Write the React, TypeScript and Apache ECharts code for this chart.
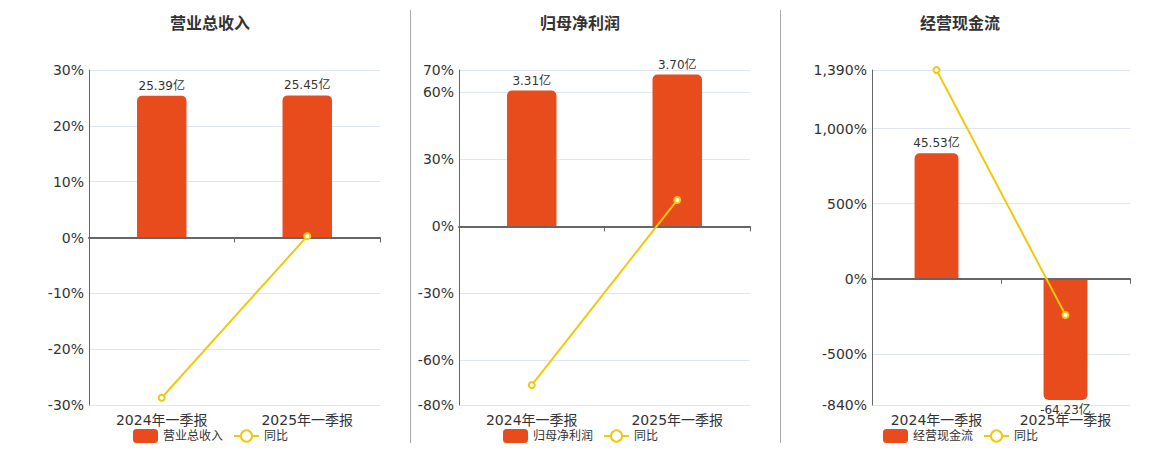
import React, { useEffect, useRef } from 'react';
import * as echarts from 'echarts';

// ---- data ----
const categories = ['2024年一季报', '2025年一季报'];
const titles = ['营业总收入', '归母净利润', '经营现金流'];
const yoyName = '同比';

const revenue = [25.39, 25.45];
const revenueYoy = [-28.7, 0.24];
const netProfit = [3.31, 3.7];
const netProfitYoy = [-71.1, 11.78];
const cashFlow = [45.53, -64.23];
const cashFlowYoy = [1390, -241.07];

const revenueTicks = [-30, -20, -10, 0, 10, 20, 30];
const netProfitTicks = [-80, -60, -30, 0, 30, 60, 70];
const cashFlowTicks = [-840, -500, 0, 500, 1000, 1390];

// hidden scale ranges used for the bars (amounts in 亿)
const revenueBarRange = [-30, 30];
const netProfitBarRange = [-4.354, 3.81];
const cashFlowBarRange = [-43.97, 75.75];

// ---- layout / style ----
const BAR_COLOR = '#E84C1D';
const LINE_COLOR = '#F2C80F';
const TEXT = '#333';
const AXIS = '#666';

const panelValues = [revenue, netProfit, cashFlow];
const panelYoy = [revenueYoy, netProfitYoy, cashFlowYoy];
const panelTicks = [revenueTicks, netProfitTicks, cashFlowTicks];
const panelBarRange = [revenueBarRange, netProfitBarRange, cashFlowBarRange];
const panelCenters = [210, 580, 960];
const panelGridLeft = [89, 459, 872];
const panelGridWidth = [291, 291, 258];

function buildOption() {
  const grid: any[] = [];
  const xAxis: any[] = [];
  const yAxis: any[] = [];
  const series: any[] = [];
  const title: any[] = [];
  const legend: any[] = [];

  for (let p = 0; p < 3; p++) {
    grid.push({ left: panelGridLeft[p], width: panelGridWidth[p], top: 70, height: 335 });
  }
  // extra grid for the cash-flow bars (clipped at its bottom)
  grid.push({ left: panelGridLeft[2], width: panelGridWidth[2], top: 70, height: 330 });

  for (let p = 0; p < 3; p++) {
    const ticks = panelTicks[p];
    xAxis.push({
      type: 'category',
      gridIndex: p,
      data: categories,
      position: 'bottom',
      axisLine: { show: false, onZero: false },
      axisTick: { show: false },
      axisLabel: { fontSize: 14, color: TEXT, margin: 8 },
      splitLine: { show: false },
    });
    xAxis.push({
      type: 'category',
      gridIndex: p,
      data: categories,
      position: 'bottom',
      z: 3,
      axisLine: { show: true, onZero: true, onZeroAxisIndex: p * 2, lineStyle: { color: AXIS, width: 2 } },
      axisTick: { show: true, length: 5, lineStyle: { color: AXIS, width: 1 } },
      axisLabel: { show: false },
      splitLine: { show: false },
    });
    yAxis.push({
      type: 'value',
      gridIndex: p,
      min: ticks[0],
      max: ticks[ticks.length - 1],
      axisLine: { show: true, lineStyle: { color: AXIS, width: 1 } },
      axisTick: { show: false, customValues: ticks },
      axisLabel: {
        customValues: ticks,
        fontSize: 14,
        color: TEXT,
        margin: 5,
        formatter: (v: number) => Number(v).toLocaleString('en-US') + '%',
      },
      splitLine: { show: true, lineStyle: { color: '#E0E6F1', width: 1 } },
    });
    yAxis.push({
      type: 'value',
      gridIndex: p === 2 ? 3 : p,
      min: panelBarRange[p][0],
      max: panelBarRange[p][1],
      show: false,
      splitLine: { show: false },
    });

    series.push({
      type: 'bar',
      name: titles[p],
      xAxisIndex: p === 2 ? 6 : p * 2,
      yAxisIndex: p * 2 + 1,
      barWidth: '34%',
      clip: true,
      itemStyle: { color: BAR_COLOR },
      label: {
        show: true,
        distance: 4,
        fontSize: 12,
        color: TEXT,
        formatter: (d: any) => Number(d.value).toFixed(2) + '亿',
      },
      data: panelValues[p].map((v) => ({
        value: v,
        itemStyle: { borderRadius: v < 0 ? [0, 0, 5, 5] : [5, 5, 0, 0] },
        label: { position: v < 0 ? 'bottom' : 'top' },
      })),
    });
    series.push({
      type: 'line',
      name: yoyName,
      xAxisIndex: p * 2,
      yAxisIndex: p * 2,
      z: 4,
      symbol: 'emptyCircle',
      symbolSize: 6,
      lineStyle: { color: LINE_COLOR, width: 2 },
      itemStyle: { color: LINE_COLOR, borderWidth: 2 },
      data: panelYoy[p],
    });

    title.push({
      text: titles[p],
      left: panelCenters[p],
      top: 15,
      padding: 0,
      textAlign: 'center',
      textStyle: { fontSize: 16, fontWeight: 'bold', color: TEXT },
    });
    legend.push({
      data: [titles[p], yoyName],
      left: panelCenters[p] - 77,
      top: 429,
      padding: 0,
      itemWidth: 25,
      itemHeight: 14,
      itemGap: 10,
      textStyle: { fontSize: 12, color: TEXT },
    });
  }
  xAxis.push({ type: 'category', gridIndex: 3, data: categories, show: false });

  return {
    animation: false,
    backgroundColor: '#fff',
    textStyle: { fontFamily: "'DejaVu Sans', 'Noto Sans CJK SC', sans-serif" },
    title,
    legend,
    grid,
    xAxis,
    yAxis,
    series,
    graphic: [
      { type: 'line', shape: { x1: 410.5, y1: 10, x2: 410.5, y2: 443 }, style: { stroke: '#aaa', lineWidth: 1 } },
      { type: 'line', shape: { x1: 780.5, y1: 10, x2: 780.5, y2: 443 }, style: { stroke: '#aaa', lineWidth: 1 } },
    ],
  };
}

export default function App() {
  const ref = useRef<HTMLDivElement>(null);
  useEffect(() => {
    if (!ref.current) return;
    const chart = echarts.init(ref.current, null, { renderer: 'svg' });
    chart.setOption(buildOption() as any);
    return () => chart.dispose();
  }, []);
  return (
    <div
      ref={ref}
      style={{ position: 'fixed', left: 0, top: 0, width: 1160, height: 450, background: '#fff' }}
    />
  );
}
